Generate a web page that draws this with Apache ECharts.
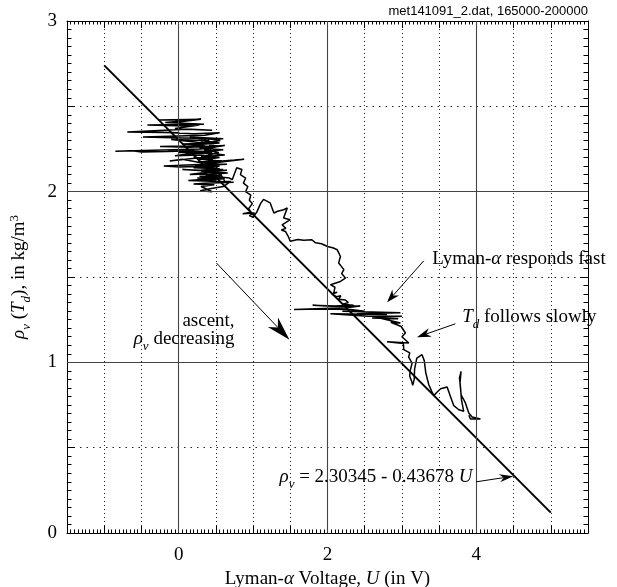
<!DOCTYPE html>
<html><head><meta charset="utf-8">
<script src="https://cdn.jsdelivr.net/npm/echarts@6/dist/echarts.min.js"></script>
<style>html,body{margin:0;padding:0;background:#fff}#c{width:617px;height:587px}</style>
</head><body><div id="c"></div>
<script>
// ---- data ----
const xTickLabels = [0, 2, 4];
const yTickLabels = [0, 1, 2, 3];
const fitU = [-1, 5];
const fitRho = [2.7402, 0.1195];
const traceU = [
-0.27,0.30,0.02,0.22,-0.18,0.34,-0.42,0.10,0.28,-0.05,0.45,0.10,-0.69,0.01,-0.35,0.20,0.55,0.35,-0.48,0.05,
0.60,0.15,0.40,-0.10,0.25,0.50,0.05,0.35,-0.25,0.15,0.62,0.30,-0.85,-0.62,-0.50,-0.15,0.20,0.00,0.45,0.10,
-0.05,0.30,0.55,0.25,0.40,-0.12,0.05,0.30,0.75,0.88,0.60,0.35,-0.20,0.02,0.40,0.20,0.55,0.28,0.05,0.45,
0.65,0.30,0.15,0.50,0.35,0.60,0.25,0.45,0.13,0.55,0.74,0.35,0.20,0.48,0.30,0.45,0.29,0.40,0.60,0.70,
0.62,0.30,0.55,0.22,0.48,0.28,0.60,0.35,0.18,0.42,0.62,0.30,0.50,0.20,0.40,0.58,0.26,0.46,0.65,0.34,
0.52,0.22,0.44,0.60,0.30,0.50,0.66,0.38,0.56,0.28,0.46,0.62,0.36,0.50,0.40,0.56,0.36,0.52,0.34,0.54,
0.36,0.55,0.38,0.56,0.40,0.55,0.41,0.57,0.43,0.58,0.48,0.68,0.72,
0.78,0.85,0.83,0.90,0.87,0.93,0.90,0.97,0.95,0.99,0.94,0.97,0.86,1.02,0.95,1.00,1.05,1.10,1.14,1.23,
1.28,1.33,1.41,1.46,1.41,1.50,1.39,1.44,1.38,1.435,1.47,1.50,1.60,1.68,1.79,1.84,1.92,2.00,2.08,2.13,
2.174,2.15,2.22,2.19,2.24,2.174,2.04,2.10,2.084,2.13,2.06,2.12,2.18,2.15,2.24,2.28,2.20,2.35,2.10,1.80,
2.05,2.44,2.25,1.55,1.90,2.31,2.50,2.20,2.98,2.40,2.80,2.04,2.55,3.00,2.60,2.95,2.70,2.98,2.85,2.99,
3.047,3.00,3.092,2.80,3.02,3.025,3.105,3.09,3.137,3.11,3.105,3.13,3.145,3.165,3.17,3.20,3.27,3.30,3.32,3.36,
3.40,3.43,3.47,3.52,3.607,3.652,3.697,3.764,3.83,3.80,3.786,3.773,3.795,3.78,3.795,3.853,3.898,3.943,4.055,3.92,
3.90
];
const traceRho = [
2.42,2.425,2.41,2.42,2.405,2.395,2.39,2.385,2.39,2.37,2.36,2.365,2.35,2.345,2.35,2.34,2.345,2.33,2.32,2.315,
2.31,2.32,2.30,2.305,2.29,2.285,2.28,2.27,2.265,2.26,2.27,2.25,2.237,2.24,2.232,2.235,2.24,2.23,2.23,2.22,
2.21,2.215,2.20,2.19,2.205,2.18,2.19,2.17,2.185,2.19,2.175,2.16,2.15,2.145,2.15,2.14,2.135,2.125,2.13,2.12,
2.125,2.11,2.10,2.105,2.09,2.085,2.08,2.075,2.065,2.06,2.055,2.05,2.045,2.04,2.03,2.00,2.005,2.015,2.03,2.06,
2.06,2.30,2.285,2.275,2.26,2.255,2.245,2.235,2.24,2.225,2.215,2.205,2.195,2.20,2.185,2.18,2.175,2.165,2.16,2.155,
2.145,2.15,2.135,2.13,2.12,2.115,2.11,2.10,2.095,2.09,2.085,2.075,2.07,2.06,2.31,2.30,2.285,2.265,2.245,2.23,
2.21,2.20,2.19,2.175,2.16,2.15,2.14,2.125,2.115,2.10,2.09,2.08,2.07,
2.14,2.13,2.10,2.08,2.05,2.03,2.00,1.98,1.95,1.93,1.90,1.88,1.87,1.875,1.86,1.85,1.88,1.93,1.955,1.934,
1.875,1.885,1.894,1.905,1.846,1.836,1.806,1.785,1.775,1.767,1.74,1.709,1.72,1.715,1.718,1.70,1.695,1.679,1.67,1.66,
1.62,1.582,1.543,1.52,1.494,1.474,1.455,1.44,1.406,1.41,1.40,1.385,1.39,1.37,1.365,1.35,1.34,1.335,1.33,1.335,
1.328,1.33,1.32,1.31,1.312,1.31,1.30,1.30,1.29,1.285,1.28,1.285,1.27,1.27,1.26,1.255,1.26,1.23,1.235,1.21,
1.172,1.15,1.113,1.12,1.11,1.074,1.055,1.03,0.996,0.95,0.918,0.89,0.865,0.90,0.96,1.025,1.045,1.01,0.94,0.87,
0.83,0.805,0.825,0.845,0.855,0.80,0.746,0.722,0.713,0.78,0.859,0.908,0.947,0.88,0.81,0.762,0.703,0.68,0.668,0.668,
0.69
];

// ---- annotation layout (data coordinates) ----
const textNotes = [
  {at:[0.752,1.244], side:'left',  text:'{n|ascent,}'},
  {at:[0.752,1.139], side:'left',  text:'{i|ρ}{s|v}{n| decreasing}'},
  {at:[3.406,1.607], side:'right', text:'{n|Lyman-}{i|α}{n| responds fast}'},
  {at:[3.809,1.267], side:'right', text:'{i|T}{s|d}{n| follows slowly}'},
  {at:[3.947,0.330], side:'left',  text:'{i|ρ}{s|v}{n| = 2.30345 - 0.43678 }{i|U}'}
];
const arrowDefs = [
  {from:[0.508,1.582], to:[1.489,1.133], len:24, wid:14},
  {from:[3.293,1.595], to:[2.801,1.352], len:13, wid:9},
  {from:[3.719,1.226], to:[3.202,1.147], len:14, wid:9},
  {from:[3.999,0.300], to:[4.498,0.333], len:14, wid:8}
];

const serif = 'Liberation Serif, Times New Roman, serif';
const rich = {
  n: {fontFamily: serif, fontSize: 19, color:'#000', lineHeight: 22, verticalAlign:'middle'},
  i: {fontFamily: serif, fontSize: 19, fontStyle:'italic', color:'#000', lineHeight: 22, verticalAlign:'middle'},
  s: {fontFamily: serif, fontSize: 13, fontStyle:'italic', color:'#000', lineHeight: 28, verticalAlign:'bottom'},
  p: {fontFamily: serif, fontSize: 13, color:'#000', lineHeight: 28, height: 20, verticalAlign:'top'}
};

const near = (v, arr) => arr.some(t => Math.abs(v - t) < 1e-9);
const frameAxisX = (pos, main) => ({
  type:'value', min:-1.5, max:5.5, interval:0.5, position:pos,
  axisLine:{show:true, onZero:false, lineStyle:{color:'#000', width:1}},
  axisTick:{show:true, inside:true, length:7, lineStyle:{color:'#000', width:1}},
  minorTick:{show:true, splitNumber:10, length:3.5, lineStyle:{color:'#000', width:1}},
  axisLabel: main ? {show:true, formatter:v => near(v, xTickLabels) ? String(v) : '',
      fontFamily:serif, fontSize:19, color:'#000', margin:13} : {show:false},
  splitLine: main ? {show:true, lineStyle:{color:'#222', type:[1,3], width:1}} : {show:false},
  minorSplitLine:{show:false}
});
const frameAxisY = (pos, main) => ({
  type:'value', min:0, max:3, interval:0.5, position:pos,
  axisLine:{show:true, onZero:false, lineStyle:{color:'#000', width:1}},
  axisTick:{show:true, inside:true, length:8, lineStyle:{color:'#000', width:1}},
  minorTick:{show:true, splitNumber:10, length:4.5, lineStyle:{color:'#000', width:1}},
  axisLabel: main ? {show:true, formatter:v => near(v, yTickLabels) ? String(v) : '',
      fontFamily:serif, fontSize:19, color:'#000', margin:10} : {show:false},
  splitLine: main ? {show:true, lineStyle:{color:'#222', type:[1.5,5], width:1}} : {show:false},
  minorSplitLine:{show:false}
});

const xMain = frameAxisX('bottom', true);
xMain.name = '{n|Lyman-}{i|α}{n| Voltage, }{i|U}{n| (in V)}';
xMain.nameLocation = 'middle';
xMain.nameGap = 31;
xMain.nameTextStyle = {rich};
const yMain = frameAxisY('left', true);
yMain.name = '{i|ρ}{s|v}{n| (}{i|T}{s|d}{n|), in kg/m}{p|3}';
yMain.nameLocation = 'middle';
yMain.nameRotate = 90;
yMain.nameGap = 34;
yMain.nameTextStyle = {rich};

const chart = echarts.init(document.getElementById('c'), null, {renderer:'canvas'});
chart.setOption({
  animation:false,
  backgroundColor:'#fff',
  title:{text:'met141091_2.dat, 165000-200000', right:29, top:5, padding:0,
    textStyle:{fontFamily:'Liberation Sans, Arial, sans-serif', fontSize:13, fontWeight:'normal', color:'#000'}},
  grid:{left:67, right:29, top:21, bottom:54, containLabel:false, outerBoundsMode:'none'},
  xAxis:[xMain, frameAxisX('top', false)],
  yAxis:[yMain, frameAxisY('right', false)],
  series:[
    {
      type:'line', xAxisIndex:0, yAxisIndex:0, silent:true, z:2,
      data:[], symbol:'none',
      markLine:{silent:true, symbol:'none', animation:false,
        label:{show:false},
        lineStyle:{type:'solid', color:'#444', width:1.1},
        data:[{xAxis:0},{xAxis:2},{xAxis:4},{yAxis:1},{yAxis:2}]}
    },
    {
      type:'line', xAxisIndex:0, yAxisIndex:0, silent:true, z:3,
      data: traceU.map((u, k) => [u, traceRho[k]]),
      symbol:'none', smooth:false,
      lineStyle:{color:'#000', width:1.5, join:'bevel'}
    },
    {
      type:'line', xAxisIndex:0, yAxisIndex:0, silent:true, z:4, clip:false,
      data: fitU.map((u, k) => [u, fitRho[k]]),
      symbol:'none',
      lineStyle:{color:'#000', width:2},
      markPoint:{silent:true, animation:false,
        data: textNotes.map(t => ({
          coord:t.at, symbol:'circle', symbolSize:0,
          label:{show:true, position:t.side, distance:0, formatter:t.text, rich}
        }))}
    }
  ]
});

function arrowEls(a) {
  const p = chart.convertToPixel({gridIndex:0}, a.from);
  const q = chart.convertToPixel({gridIndex:0}, a.to);
  const dx = q[0]-p[0], dy = q[1]-p[1], d = Math.hypot(dx, dy);
  const ux = dx/d, uy = dy/d, nx = -uy, ny = ux;
  const bx = q[0]-ux*a.len, by = q[1]-uy*a.len;
  const mx = q[0]-ux*a.len*0.7, my = q[1]-uy*a.len*0.7;
  return [
    {type:'line', silent:true, z:10, shape:{x1:p[0], y1:p[1], x2:mx, y2:my}, style:{stroke:'#000', lineWidth:1}},
    {type:'polygon', silent:true, z:10, shape:{points:[[q[0],q[1]],[bx+nx*a.wid/2, by+ny*a.wid/2],[mx,my],[bx-nx*a.wid/2, by-ny*a.wid/2]]},
      style:{fill:'#000'}}
  ];
}
chart.setOption({graphic: arrowDefs.flatMap(arrowEls)});
</script></body></html>
